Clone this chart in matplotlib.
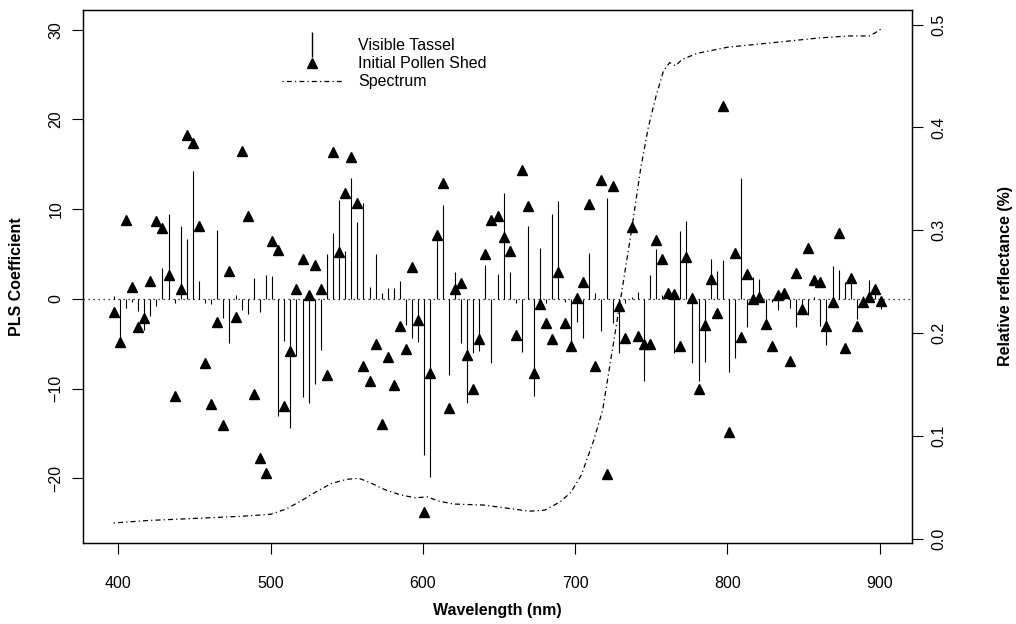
import numpy as np
import matplotlib.pyplot as plt
from matplotlib.lines import Line2D

plt.rcParams['font.family'] = ['Liberation Sans', 'DejaVu Sans']

# wavelengths every 4 nm, 397 .. 901
wavelength = np.arange(397, 902, 4)

# PLS coefficients, visible tassel (drawn as vertical lines)
tassel = [0.3, -4.9, -1.04, -0.3, -1.4, -3.46, -1.9, -0.78, 3.42, 9.44,
          -0.4, 8.14, 6.65, 14.27, 1.97, -0.48, -0.56, 7.7, -2.16, -4.87,
          0.45, -1.2, -1.7, 2.3, -1.5, 2.7, 2.6, -13.05, -4.65, -14.4,
          -6.36, -10.9, -11.6, -9.5, -5.7, 4.98, 7.4, 11.04, 5.35, 13.46,
          8.62, 10.67, 1.38, 4.98, 0.63, 1.19, 1.19, 2.0, -2.9, -4.39,
          -4.83, -17.4, -19.8, 7.14, 10.48, -8.48, 3.05, -4.94, -11.56, -5.99,
          -5.76, 3.79, -7.17, 2.75, 11.78, 3.05, -0.4, -5.95, 8.14, -10.8,
          5.72, -0.4, 9.44, 10.86, -0.3, -5.3, -2.6, -4.3, 5.17, 0.63,
          -3.57, 11.2, -2.64, -5.99, -0.4, 0.26, 0.82, -9.1, 2.7, 5.54,
          0.4, 0.3, -6.06, 7.58, 8.7, -7.17, -9.2, -7.0, 4.42, 3.12,
          4.35, -8.1, -6.6, 13.46, -3.09, 2.5, 2.19, -2.7, -0.3, -1.2,
          0.3, -1.04, -3.09, -1.5, -1.78, 0.2, -2.97, -5.13, 3.68, 3.23,
          1.93, 2.12, -2.27, 0.3, 2.12, 1.19, -1.15]

# PLS coefficients, initial pollen shed (triangles)
pollen = [-1.49, -4.76, 8.81, 1.38, -3.16, -2.16, 2.0, 8.74, 7.92, 2.68,
          -10.8, 1.12, 18.29, 17.43, 8.18, -7.17, -11.75, -2.6, -14.1, 3.16,
          -1.97, 16.5, 9.26, -10.6, -17.7, -19.4, 6.47, 5.46, -11.9, -5.76,
          1.15, 4.5, 0.48, 3.75, 1.15, -8.5, 16.4, 5.24, 11.86, 15.84,
          10.67, -7.43, -9.14, -5.06, -13.98, -6.43, -9.6, -3.0, -5.6, 3.6,
          -2.34, -23.8, -8.2, 7.14, 12.97, -12.2, 1.08, 1.75, -6.28, -10.0,
          -4.42, 5.02, 8.77, 9.26, 6.88, 5.35, -4.0, 14.39, 10.37, -8.29,
          -0.56, -2.71, -4.5, 3.05, -2.64, -5.2, 0.07, 1.93, 10.6, -7.43,
          13.27, -19.55, 12.6, -0.74, -4.31, 7.99, -4.09, -5.06, -5.06, 6.54,
          4.46, 0.63, 0.52, -5.2, 4.72, 0.07, -10.07, -2.9, 2.19, -1.6,
          21.45, -14.87, 5.09, -4.2, 2.75, 0.0, 0.19, -2.83, -5.3, 0.45,
          0.63, -6.91, 2.94, -1.15, 5.65, 2.12, 1.93, -3.01, -0.3, 7.32,
          -5.5, 2.38, -3.01, -0.3, 0.19, 1.12, -0.19]

# mean spectrum (relative reflectance)
spec_wl = [397, 420, 450, 480, 500, 510, 520, 530, 540, 550,
           558, 565, 575, 585, 595, 603, 610, 620, 640, 655,
           670, 680, 690, 697, 704, 712, 718, 724, 730, 737,
           743, 748, 753, 758, 762, 766, 770, 780, 790, 800,
           820, 840, 860, 880, 893, 897, 901]
spec_refl = [0.0156, 0.018, 0.020, 0.022, 0.024, 0.029, 0.037, 0.046, 0.054, 0.058,
             0.059, 0.055, 0.048, 0.043, 0.040, 0.041, 0.037, 0.034, 0.033, 0.030,
             0.027, 0.028, 0.036, 0.045, 0.062, 0.095, 0.125, 0.180, 0.235, 0.300,
             0.360, 0.400, 0.430, 0.455, 0.463, 0.460, 0.466, 0.472, 0.475, 0.478,
             0.481, 0.484, 0.487, 0.489, 0.489, 0.492, 0.496]

dotdash = (0, (1, 2.5, 4, 2.5))

fig = plt.figure(figsize=(10.16, 6.24), dpi=100)
ax = fig.add_axes([83 / 1016, 81 / 624, 829 / 1016, 533 / 624])

ax.vlines(wavelength, 0, tassel, color='black', lw=0.8)
ax.plot(wavelength, pollen, ls='none', marker='^', ms=7.5, color='black')
ax.axhline(0, color='black', lw=0.9, ls=(0, (1, 3)))

ax.set_xlim(376.84, 921.16)
ax.set_ylim(-27.2, 32.2)
ax.set_xticks([400, 500, 600, 700, 800, 900])
ax.set_yticks([-20, -10, 0, 10, 20, 30])
ax.tick_params(direction='out', length=8, width=0.8, labelsize=11.5)
ax.tick_params(axis='x', pad=16)
ax.tick_params(axis='y', pad=6, labelrotation=90)
plt.setp(ax.get_yticklabels(), va='center')

ax.set_xlabel('Wavelength (nm)', fontsize=11.5, fontweight='bold')
ax.set_ylabel('PLS Coefficient', fontsize=11.5, fontweight='bold')
ax.xaxis.set_label_coords(0.5, -0.113)
ax.yaxis.set_label_coords(-0.071, 0.5)

# spectrum on the right axis
ax2 = ax.twinx()
ax2.plot(spec_wl, spec_refl, color='black', lw=0.9, ls=dotdash)
ax2.set_ylim(-0.0039, 0.5142)
ax2.set_yticks([0.0, 0.1, 0.2, 0.3, 0.4, 0.5])
ax2.set_yticklabels(['0.0', '0.1', '0.2', '0.3', '0.4', '0.5'])
ax2.tick_params(direction='out', length=8, width=0.8, labelsize=11.5, pad=6, labelrotation=90)
plt.setp(ax2.get_yticklabels(), va='center')
ax2.set_ylabel('Relative reflectance (%)', fontsize=11.5, fontweight='bold')
ax2.yaxis.set_label_coords(1.104, 0.5)

for a in (ax, ax2):
    for s in a.spines.values():
        s.set_linewidth(0.9)

handles = [Line2D([], [], ls='none', marker='|', ms=18, mew=1, color='black'),
           Line2D([], [], ls='none', marker='^', ms=7.5, color='black'),
           Line2D([], [], color='black', lw=0.9, ls=dotdash)]
fig.legend(handles, ['Visible Tassel', 'Initial Pollen Shed', 'Spectrum'],
           loc='upper left', bbox_to_anchor=(282 / 1016, 1 - 38 / 624),
           frameon=False, fontsize=11.5, handlelength=3.75, handletextpad=1.0,
           borderpad=0, borderaxespad=0, labelspacing=0.2)

fig.savefig('out.png', dpi=100)
